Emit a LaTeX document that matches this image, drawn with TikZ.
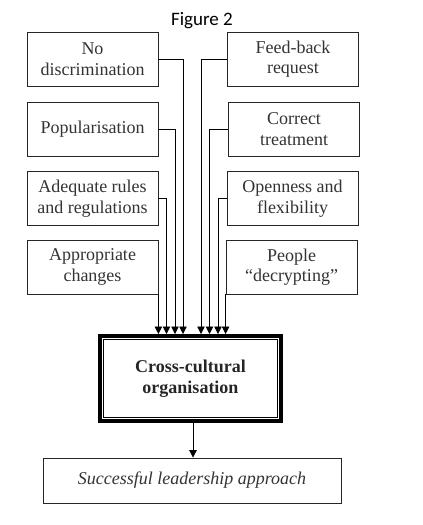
\documentclass[tikz,border=0pt]{standalone}
\usepackage{fontspec}
\setmainfont{Liberation Serif}
\newfontfamily\titlefont{Carlito}
\usetikzlibrary{arrows.meta,positioning,calc}
\newcommand\boxfont{\fontsize{18}{20.5}\selectfont}

\begin{document}
\begin{tikzpicture}[x=1pt,y=-1pt,font=\boxfont,
    factor/.style={draw=black!85, line width=0.8pt, text=black!80, align=center,
      minimum width=131pt, minimum height=54pt, inner sep=2pt},
    feed/.style={draw=black, line width=0.8pt, -{Triangle[length=7.5pt,width=7.5pt]}}]
  \useasboundingbox (0,0) rectangle (423,525);
  \node[font=\titlefont\fontsize{19}{20}\selectfont] (title) at (202,21) {Figure 2};
  % left column
  \node[factor] (nodisc)  at (92.5,59)    {No\\discrimination};
  \node[factor] (popular) at (92.5,129)   {Popularisation};
  \node[factor] (rules)   at (92.5,198.5) {Adequate rules\\and regulations};
  \node[factor] (changes) at (92.5,267)   {Appropriate\\changes};
  % right column
  \node[factor] (feedback) at (293,59)    {Feed-back\\request};
  \node[factor] (correct)  at (294,129)   {Correct\\treatment};
  \node[factor] (openness) at (292.5,198.5) {Openness and\\flexibility};
  \node[factor] (decrypt)  at (291.5,267) {People\\``decrypting''};
  % centre
  \node[draw, line width=4pt, minimum width=181pt, minimum height=85pt, align=center,
        text=black!85, font=\boxfont\bfseries] (cross) at (190.5,378.5) {Cross-cultural\\organisation};
  \draw[line width=0.8pt] ([xshift=5.5pt,yshift=-5.5pt]cross.north west)
    rectangle ([xshift=-5.5pt,yshift=5.5pt]cross.south east);
  \node[factor, minimum width=298pt, minimum height=45pt, font=\boxfont\itshape] (result) at (192,480.5)
    {Successful leadership approach};
  % connectors
  \draw[feed] (nodisc.east)  -| ([xshift=-7.5pt]cross.north);
  \draw[feed] (popular.east) -| ([xshift=-15.5pt]cross.north);
  \draw[feed] (rules.east)   -| ([xshift=-24pt]cross.north);
  \draw[feed] (changes.south east) -- (changes.south east |- cross.north);
  \draw[feed] (feedback.west) -| ([xshift=10.5pt]cross.north);
  \draw[feed] (correct.west)  -| ([xshift=19pt]cross.north);
  \draw[feed] (openness.west) -| ([xshift=27.5pt]cross.north);
  \draw[feed] (decrypt.south west) -- (decrypt.south west |- cross.north);
  \draw[feed] ([xshift=2.5pt]cross.south) -- ([xshift=2.5pt]cross.south |- result.north);
\end{tikzpicture}
\end{document}
